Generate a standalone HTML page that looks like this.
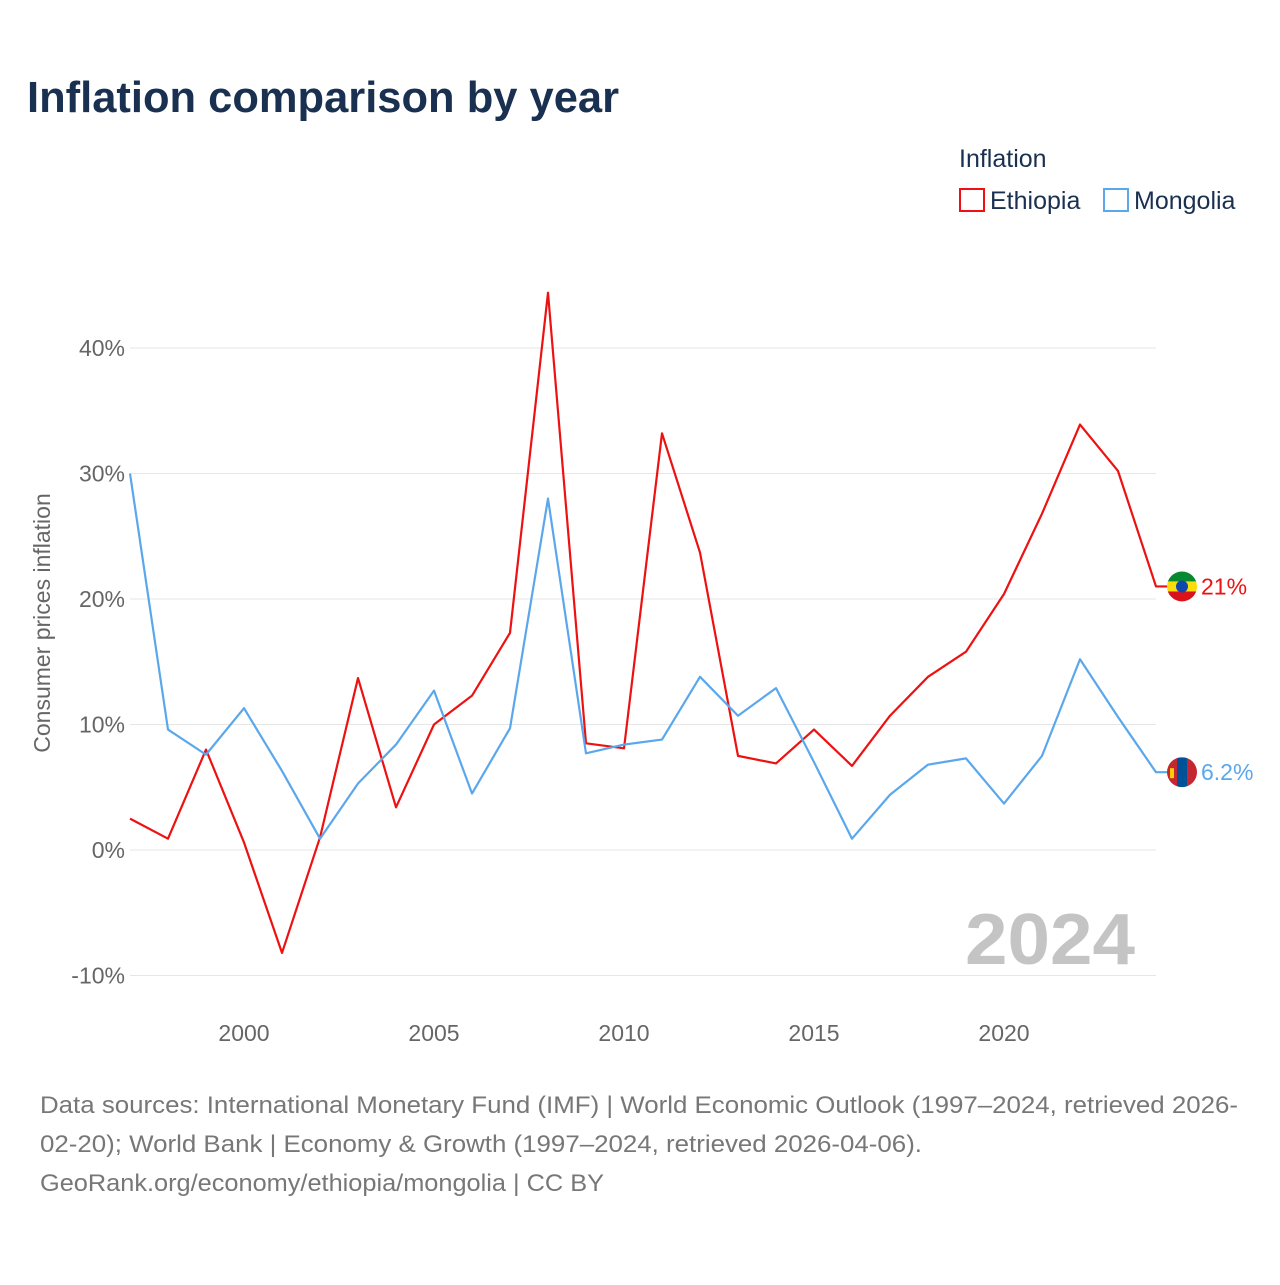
<!DOCTYPE html>
<html><head><meta charset="utf-8">
<style>
body{margin:0;background:#fff;font-family:"Liberation Sans",sans-serif;}
svg text{font-family:"Liberation Sans",sans-serif;}
</style></head>
<body>
<svg id="chart" width="1280" height="1280" viewBox="0 0 1280 1280">
<text x="27" y="112" font-size="44" font-weight="bold" fill="#1a3050" textLength="592" lengthAdjust="spacingAndGlyphs">Inflation comparison by year</text>
<text x="959" y="167" font-size="25" fill="#1a3050">Inflation</text>
<g><rect x="960" y="189" width="24" height="22" fill="none" stroke="#ee1111" stroke-width="2"/><text x="990" y="209" font-size="25" fill="#1a3050">Ethiopia</text></g>
<g><rect x="1104" y="189" width="24" height="22" fill="none" stroke="#5ba7ec" stroke-width="2"/><text x="1134" y="209" font-size="25" fill="#1a3050">Mongolia</text></g>
<text transform="translate(50,623) rotate(-90)" text-anchor="middle" font-size="23" fill="#666">Consumer prices inflation</text>
<g id="grid"></g><g id="yt"></g><g id="xt"></g>
<text x="965" y="964" font-size="72" font-weight="bold" fill="#c4c4c4" textLength="170" lengthAdjust="spacingAndGlyphs">2024</text>
<g id="series"></g>
<text x="40" y="1113" font-size="24" fill="#777" textLength="1198" lengthAdjust="spacingAndGlyphs">Data sources: International Monetary Fund (IMF) | World Economic Outlook (1997–2024, retrieved 2026-</text>
<text x="40" y="1152" font-size="24" fill="#777" textLength="882" lengthAdjust="spacingAndGlyphs">02-20); World Bank | Economy &amp; Growth (1997–2024, retrieved 2026-04-06).</text>
<text x="40" y="1191" font-size="24" fill="#777" textLength="564" lengthAdjust="spacingAndGlyphs">GeoRank.org/economy/ethiopia/mongolia | CC BY</text>
</svg>
<script>
const years=[1997,1998,1999,2000,2001,2002,2003,2004,2005,2006,2007,2008,2009,2010,2011,2012,2013,2014,2015,2016,2017,2018,2019,2020,2021,2022,2023,2024];
const ethiopia=[2.5,0.9,8.0,0.6,-8.2,1.0,13.7,3.4,10.0,12.3,17.3,44.4,8.5,8.1,33.2,23.7,7.5,6.9,9.6,6.7,10.7,13.8,15.8,20.4,26.8,33.9,30.2,21.0];
const mongolia=[30.0,9.6,7.6,11.3,6.3,0.9,5.3,8.4,12.7,4.5,9.7,28.0,7.7,8.4,8.8,13.8,10.7,12.9,7.0,0.9,4.4,6.8,7.3,3.7,7.5,15.2,10.6,6.2];
const yTicks=[-10,0,10,20,30,40];
const xTicks=[2000,2005,2010,2015,2020];
const NS="http://www.w3.org/2000/svg";
const x=v=>130+(v-1997)*38;
const y=v=>850-v*12.55;
function mk(t,a,p){const e=document.createElementNS(NS,t);for(const k in a)e.setAttribute(k,a[k]);p.appendChild(e);return e;}
const grid=document.getElementById('grid'),yt=document.getElementById('yt'),xt=document.getElementById('xt'),ser=document.getElementById('series');
yTicks.forEach(v=>{
 const l=mk('line',{x1:130,x2:1156,y1:y(v),y2:y(v),stroke:'#e6e6e6','stroke-width':1},grid);
 
 
 const t=mk('text',{x:125,y:y(v)+8,'text-anchor':'end','font-size':23,fill:'#666'},yt);
 t.textContent=v+'%';
 
 
});
xTicks.forEach(v=>{
 const t=mk('text',{x:x(v),y:1041,'text-anchor':'middle','font-size':23,fill:'#666'},xt);
 t.textContent=v;
 
 
});
function line(vals,color,name,label,flag){
 const d=vals.map((v,i)=>(i?'L':'M')+x(years[i])+','+y(v)).join(' ')+' L'+(x(2024)+14)+','+y(vals[vals.length-1]);
 const p=mk('path',{d:d,fill:'none',stroke:color,'stroke-width':2.2,'stroke-linejoin':'round'},ser);
 
 
 const ly=y(vals[vals.length-1]);
 const g=mk('g',{},ser);
 
 
 const cp=mk('clipPath',{id:'c'+name},g);mk('circle',{cx:1182,cy:ly,r:15},cp);
 const fg=mk('g',{'clip-path':'url(#c'+name+')'},g);
 flag(fg,ly);
 const t=mk('text',{x:1201,y:ly+8,'font-size':23,fill:color},ser);
 t.textContent=label;
 
 
}
line(ethiopia,'#ee1111','ethiopia','21%',(g,cy)=>{
 mk('rect',{x:1167,y:cy-15,width:30,height:10,fill:'#078930'},g);
 mk('rect',{x:1167,y:cy-5,width:30,height:10,fill:'#fcdd09'},g);
 mk('rect',{x:1167,y:cy+5,width:30,height:10,fill:'#da121a'},g);
 mk('circle',{cx:1182,cy:cy,r:6,fill:'#0f47af'},g);
});
line(mongolia,'#5ba7ec','mongolia','6.2%',(g,cy)=>{
 mk('rect',{x:1167,y:cy-15,width:10,height:30,fill:'#c4272f'},g);
 mk('rect',{x:1177,y:cy-15,width:10,height:30,fill:'#015197'},g);
 mk('rect',{x:1187,y:cy-15,width:10,height:30,fill:'#c4272f'},g);
 mk('rect',{x:1170,y:cy-4,width:4,height:10,fill:'#f9cf02'},g);
});
</script>
</body></html>
